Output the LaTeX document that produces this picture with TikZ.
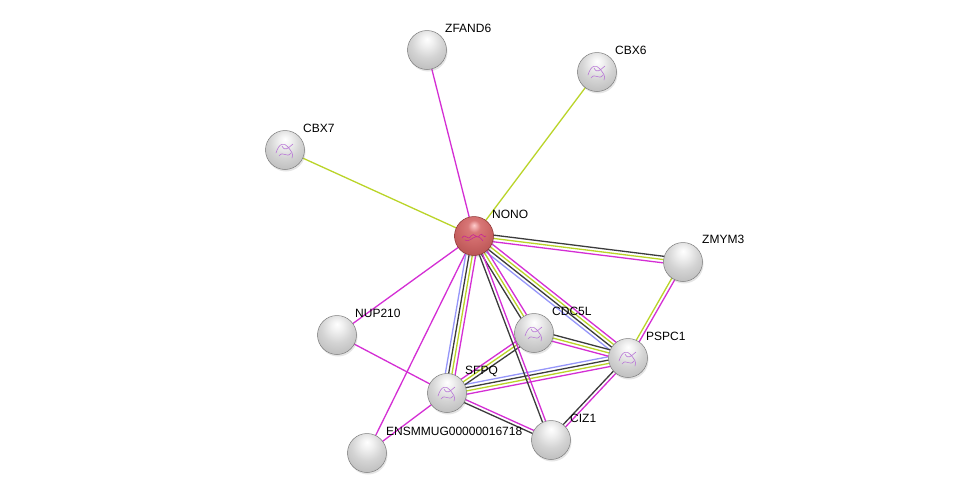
\documentclass[tikz,border=0pt]{standalone}
\usepackage{fontspec}
\setmainfont{Liberation Sans}
\usetikzlibrary{calc,backgrounds,shadows}
\definecolor{cmag}{RGB}{212,46,212}
\definecolor{cyg}{RGB}{186,212,40}
\definecolor{cblack}{RGB}{60,60,60}
\definecolor{cblue}{RGB}{150,150,250}
\definecolor{cstruct}{RGB}{185,120,215}
\definecolor{cqstruct}{RGB}{200,40,150}
\definecolor{crim}{RGB}{125,125,125}
\definecolor{cqrim}{RGB}{140,50,50}
\pgfdeclareradialshading{graysph}{\pgfpoint{0bp}{14bp}}{%
 color(0bp)=(white); color(8bp)=(white!94!black); color(20bp)=(white!83!black);
 color(34bp)=(white!74!black); color(48bp)=(white!55!black); color(56bp)=(white!48!black); color(70bp)=(white!42!black)}
\pgfdeclareradialshading{redsph}{\pgfpoint{0bp}{14bp}}{%
 color(0bp)=(white!80!red); color(8bp)=(white!55!red!85!black); color(20bp)=(red!50!white!80!black);
 color(34bp)=(red!55!white!72!black); color(48bp)=(red!60!white!52!black); color(56bp)=(red!60!white!45!black); color(70bp)=(red!50!black)}
\tikzset{
 prot/.style={circle, minimum size=39pt, inner sep=0pt, shading=graysph, draw=crim, line width=0.5pt,
   drop shadow={shadow xshift=1pt, shadow yshift=-2pt, opacity=0.2}},
 qprot/.style={prot, shading=redsph, draw=cqrim},
 struct/.style={path picture={
   \draw[cstruct, line width=0.6pt, line cap=round]
     (-9,3) .. controls (-6,-7) and (-1,-8) .. (3,-3) .. controls (6,1) and (9,4) .. (7,8)
     (-6,6) .. controls (-2,0) and (2,9) .. (6,3)
     (-3,-4) .. controls (0,2) and (3,-2) .. (8,-6);}},
 qstruct/.style={path picture={
   \draw[cqstruct, line width=0.6pt, line cap=round]
     (-12,2) .. controls (-9,-4) and (-6,6) .. (-3,0) .. controls (0,-5) and (3,5) .. (6,-1) .. controls (8,-4) and (10,3) .. (12,0)
     (-9,4) .. controls (-4,8) and (2,-6) .. (9,5);}},
 lbl/.style={anchor=west, inner sep=0pt, font=\fontsize{12}{14}\selectfont, text=black},
 edge/.style={line width=1.3pt}
}
\newcommand\bund[4]{%
 \begin{pgfonlayer}{background}
 \foreach \cc [count=\i] in {#4} {
   \pgfmathsetmacro\off{(\i-(#3+1)/2)*3.3}
   \draw[edge, \cc] ($(#1.center)!\off pt!90:(#2.center)$) -- ($(#2.center)!\off pt!-90:(#1.center)$);
 }
 \end{pgfonlayer}}
\newcommand\sing[3]{%
 \begin{pgfonlayer}{background}
 \draw[edge, #3] (#1.center) -- (#2.center);
 \end{pgfonlayer}}
\begin{document}
\begin{tikzpicture}[x=1pt,y=-1pt]
\begin{pgfonlayer}{background}
\fill[white] (0,0) rectangle (975,498);
\end{pgfonlayer}
\useasboundingbox (0,0) rectangle (975,498);
\node[qprot, qstruct] (NONO) at (474,236) {};
\node[prot] (ZFAND6) at (427,50) {};
\node[prot, struct] (CBX6) at (597,72) {};
\node[prot, struct] (CBX7) at (285,150) {};
\node[prot] (ZMYM3) at (683,262) {};
\node[prot] (NUP210) at (337,335) {};
\node[prot, struct] (CDC5L) at (534,333) {};
\node[prot, struct] (PSPC1) at (628,358) {};
\node[prot, struct] (SFPQ) at (447,393) {};
\node[prot] (CIZ1) at (551,440) {};
\node[prot] (ENS) at (367,453) {};
\node[lbl] (lNONO) at (492,214) {NONO};
\node[lbl] (lZFAND6) at (445,28) {ZFAND6};
\node[lbl] (lCBX6) at (615,50) {CBX6};
\node[lbl] (lCBX7) at (303,128) {CBX7};
\node[lbl] (lZMYM3) at (702,239) {ZMYM3};
\node[lbl] (lNUP210) at (355,313) {NUP210};
\node[lbl] (lCDC5L) at (552,311) {CDC5L};
\node[lbl] (lPSPC1) at (646,336) {PSPC1};
\node[lbl] (lSFPQ) at (465,371) {SFPQ};
\node[lbl] (lENS) at (386,431) {ENSMMUG00000016718};
\node[lbl] (lCIZ1) at (570,418) {CIZ1};
\sing{NONO}{ZFAND6}{cmag}
\sing{NONO}{CBX6}{cyg}
\sing{NONO}{CBX7}{cyg}
\sing{NONO}{NUP210}{cmag}
\sing{NONO}{ENS}{cmag}
\sing{SFPQ}{NUP210}{cmag}
\sing{SFPQ}{ENS}{cmag}
\bund{NONO}{SFPQ}{4}{cblue,cblack,cyg,cmag}
\bund{NONO}{PSPC1}{4}{cblue,cblack,cyg,cmag}
\bund{PSPC1}{SFPQ}{4}{cblue,cblack,cyg,cmag}
\bund{ZMYM3}{NONO}{3}{cblack,cyg,cmag}
\bund{NONO}{CDC5L}{3}{cblack,cyg,cmag}
\bund{PSPC1}{CDC5L}{3}{cblack,cyg,cmag}
\bund{SFPQ}{CDC5L}{3}{cblack,cyg,cmag}
\bund{ZMYM3}{PSPC1}{2}{cyg,cmag}
\bund{PSPC1}{CIZ1}{2}{cblack,cmag}
\bund{SFPQ}{CIZ1}{2}{cblack,cmag}
\bund{NONO}{CIZ1}{2}{cblack,cmag}
\end{tikzpicture}
\end{document}
